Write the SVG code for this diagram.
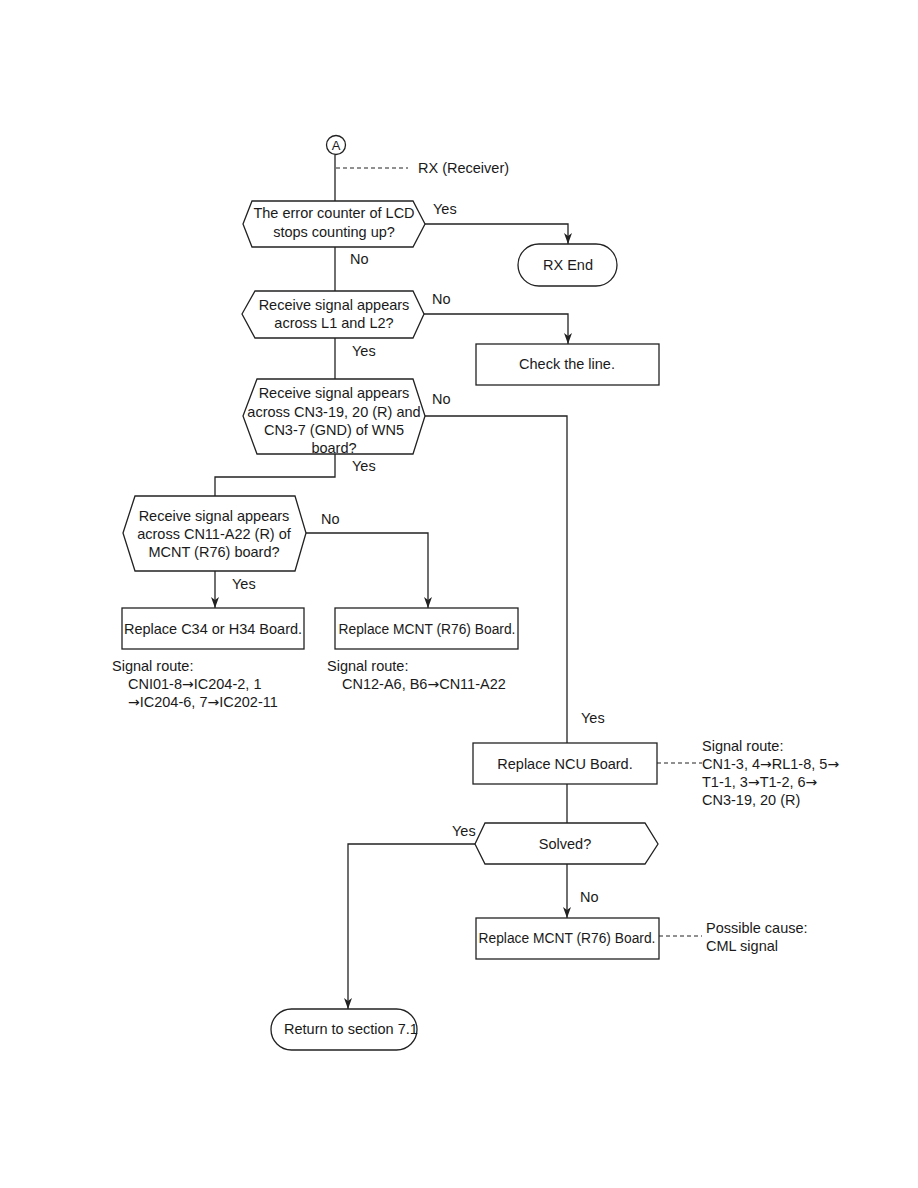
<svg xmlns="http://www.w3.org/2000/svg" width="918" height="1188" viewBox="0 0 918 1188">
<style>
.s{fill:#fff;stroke:#222;stroke-width:1.3}
.c{fill:none;stroke:#222;stroke-width:1.3}
.d{fill:none;stroke:#222;stroke-width:1;stroke-dasharray:4,3}
text{font-family:"Liberation Sans",Arial,sans-serif;font-size:14.5px;fill:#1a1a1a}
.m{text-anchor:middle}
.sm{font-size:13.8px}
.ar{font-family:"DejaVu Sans",sans-serif;font-size:14px}
</style>
<defs>
<marker id="ah" markerWidth="12" markerHeight="8" refX="11" refY="4" orient="auto-start-reverse" markerUnits="userSpaceOnUse" viewBox="0 0 12 8">
<path d="M0,0 L11,4 L0,8 L3,4 Z" fill="#222"/>
</marker>
</defs>
<rect width="918" height="1188" fill="#fff"/>
<g id="connectors">
<line class="c" x1="335" y1="155" x2="335" y2="201"/>
<line class="d" x1="336" y1="168" x2="408" y2="168"/>
<path class="c" d="M425,224 H568 V244" marker-end="url(#ah)"/>
<line class="c" x1="335" y1="247" x2="335" y2="291"/>
<path class="c" d="M424,314 H568 V344" marker-end="url(#ah)"/>
<line class="c" x1="335" y1="338" x2="335" y2="379"/>
<path class="c" d="M425,416 H567 V743"/>
<path class="c" d="M335,454 V477 H215 V496"/>
<path class="c" d="M215,571 V608" marker-end="url(#ah)"/>
<path class="c" d="M306,533 H428 V608" marker-end="url(#ah)"/>
<line class="d" x1="657" y1="763" x2="702" y2="763"/>
<line class="c" x1="567" y1="784" x2="567" y2="823"/>
<path class="c" d="M567,864 V918" marker-end="url(#ah)"/>
<path class="c" d="M475,844 H348 V1009" marker-end="url(#ah)"/>
<line class="d" x1="659" y1="936" x2="702" y2="936"/>
</g>
<g id="startA">
<circle class="s" cx="336" cy="145" r="9.5"/>
<text x="336" y="150" class="m" style="font-size:13px">A</text>
</g>
<g id="rxnote"><text x="418" y="173">RX (Receiver)</text></g>
<g id="d1">
<polygon class="s" points="243,224 252,201 413,201 425,224 413,247 252,247"/>
<text x="334" y="218" class="m">The error counter of LCD</text>
<text x="334" y="237" class="m">stops counting up?</text>
<text x="433" y="214">Yes</text>
<text x="350" y="264">No</text>
</g>
<g id="rxend">
<rect class="s" x="518" y="244" width="99" height="42" rx="21" ry="21"/>
<text x="568" y="270" class="m">RX End</text>
</g>
<g id="d2">
<polygon class="s" points="242,314 255,291 413,291 424,314 413,338 255,338"/>
<text x="334" y="310" class="m">Receive signal appears</text>
<text x="334" y="328" class="m">across L1 and L2?</text>
<text x="432" y="304">No</text>
<text x="352" y="356">Yes</text>
</g>
<g id="checkline">
<rect class="s" x="476" y="344" width="183" height="41"/>
<text x="567" y="369" class="m">Check the line.</text>
</g>
<g id="d3">
<polygon class="s" points="243,416 257,379 413,379 425,416 413,454 257,454"/>
<text x="334" y="398" class="m">Receive signal appears</text>
<text x="334" y="416.5" class="m">across CN3-19, 20 (R) and</text>
<text x="334" y="435" class="m">CN3-7 (GND) of WN5</text>
<text x="334" y="452.5" class="m">board?</text>
<text x="432" y="404">No</text>
<text x="352" y="471">Yes</text>
<text x="581" y="723">Yes</text>
</g>
<g id="d4">
<polygon class="s" points="123,533 135,496 295,496 306,533 295,571 135,571"/>
<text x="214" y="521" class="m">Receive signal appears</text>
<text x="214" y="539" class="m">across CN11-A22 (R) of</text>
<text x="214" y="557" class="m">MCNT (R76) board?</text>
<text x="321" y="524">No</text>
<text x="232" y="589">Yes</text>
</g>
<g id="c34">
<rect class="s" x="122" y="608" width="182" height="41"/>
<text x="213" y="634" class="m">Replace C34 or H34 Board.</text>
<text x="112" y="671">Signal route:</text>
<text x="128" y="689">CNI01-8<tspan class="ar">→</tspan>IC204-2, 1</text>
<text x="128" y="707"><tspan class="ar">→</tspan>IC204-6, 7<tspan class="ar">→</tspan>IC202-11</text>
</g>
<g id="mcnt1">
<rect class="s" x="335" y="608" width="183" height="41"/>
<text x="427" y="634" class="m sm">Replace MCNT (R76) Board.</text>
<text x="327" y="671">Signal route:</text>
<text x="342" y="689">CN12-A6, B6<tspan class="ar">→</tspan>CN11-A22</text>
</g>
<g id="ncu">
<rect class="s" x="473" y="743" width="184" height="41"/>
<text x="565" y="769" class="m">Replace NCU Board.</text>
<text x="702" y="751">Signal route:</text>
<text x="702" y="769">CN1-3, 4<tspan class="ar">→</tspan>RL1-8, 5<tspan class="ar">→</tspan></text>
<text x="702" y="787">T1-1, 3<tspan class="ar">→</tspan>T1-2, 6<tspan class="ar">→</tspan></text>
<text x="702" y="805">CN3-19, 20 (R)</text>
</g>
<g id="solved">
<polygon class="s" points="475,844 485,823 645,823 658,844 645,864 485,864"/>
<text x="565" y="849" class="m">Solved?</text>
<text x="452" y="836">Yes</text>
<text x="580" y="902">No</text>
</g>
<g id="mcnt2">
<rect class="s" x="476" y="918" width="183" height="41"/>
<text x="567" y="943" class="m sm">Replace MCNT (R76) Board.</text>
<text x="706" y="933">Possible cause:</text>
<text x="706" y="951">CML signal</text>
</g>
<g id="return">
<rect class="s" x="271" y="1009" width="146" height="41" rx="20.5" ry="20.5"/>
<text x="284" y="1034">Return to section 7.1</text>
</g>
</svg>
